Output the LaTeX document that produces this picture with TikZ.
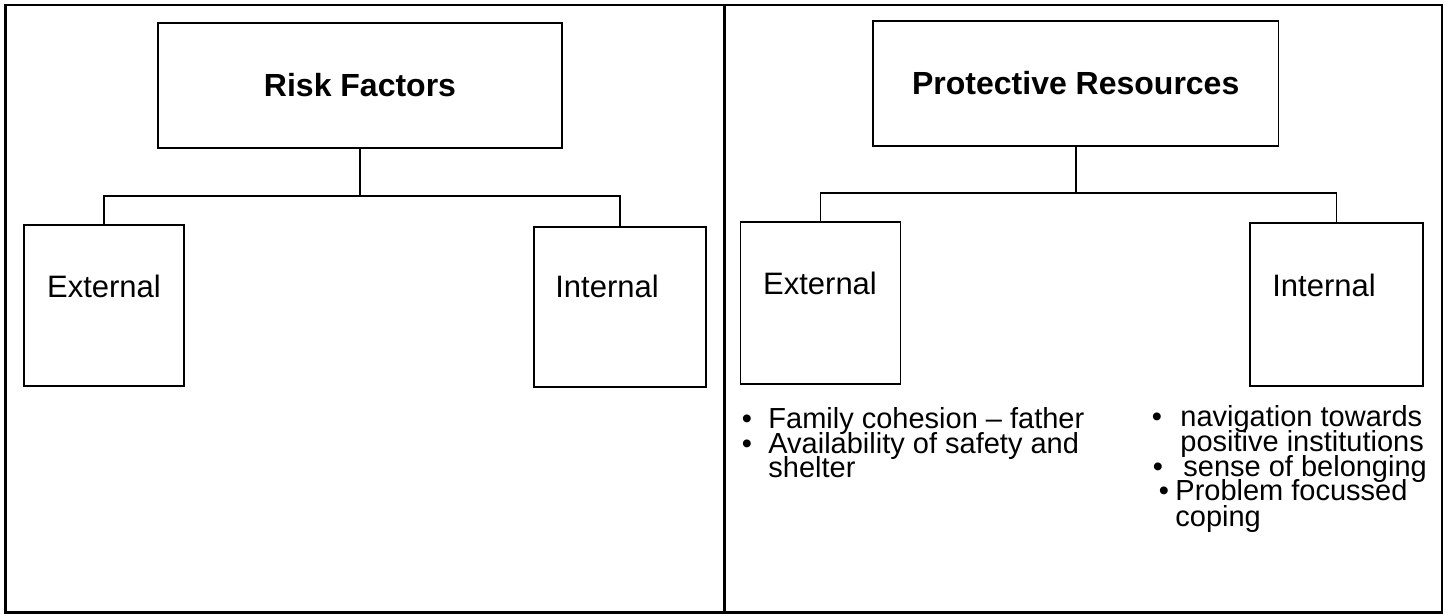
\documentclass[tikz,border=0pt]{standalone}
\usepackage{fontspec}
\setmainfont{Liberation Sans}
\begin{document}
\begin{tikzpicture}[x=0.5pt,y=-0.5pt,
  frame/.style={line width=1.3pt},
  box/.style={draw,line width=0.8pt,inner sep=0pt,outer sep=0pt,align=center},
  title/.style={font=\fontsize{16}{19}\selectfont\bfseries},
  branch/.style={inner sep=0pt,anchor=base,font=\fontsize{15.5}{18}\selectfont},
  item/.style={inner sep=0pt,anchor=base west,text depth=0pt,font=\fontsize{14.5}{12.5}\selectfont},
  dot/.style={inner sep=0pt,anchor=base,text depth=0pt,font=\fontsize{14.5}{12.5}\selectfont},
  link/.style={line width=0.8pt}]
\useasboundingbox (0,0) rectangle (1446,614);

% outer frame split into two panels
\draw[frame] (5.5,5) rectangle (1442,612.5);
\draw[line width=1.1pt] (724.5,5) -- (724.5,612.5);

% ---- left panel: risk factors ----
\node[box,title,minimum width=202pt,minimum height=62.5pt] (rf) at (360,85.5) {Risk Factors};
\node[box,minimum width=80pt,minimum height=80.5pt] (lext) at (104,305.5) {};
\node[box,minimum width=86pt,minimum height=80pt] (lint) at (620,307) {};
\node[branch] (lextt) at (104,298) {External};
\node[branch] (lintt) at (607,298) {Internal};

\draw[link] (rf.south) -- ++(0,48) coordinate (rfj);
\draw[link] (lext.north) |- (rfj) -| (lint.north);

% ---- right panel: protective resources ----
\node[box,title,minimum width=202.75pt,minimum height=62.5pt] (pr) at (1075.75,83.5) {Protective Resources};
\node[box,minimum width=80pt,minimum height=81pt] (rext) at (820.5,303) {};
\node[box,minimum width=86.5pt,minimum height=81.5pt] (rint) at (1336.5,304.5) {};
\node[branch] (rextt) at (820,295) {External};
\node[branch] (rintt) at (1324,297) {Internal};

\draw[link] (pr.south) -- ++(0,47) coordinate (prj);
\draw[link] (rext.north) |- (prj) -| (rint.north);

% external protective resources
\node[dot] (eb1) at (747,429) {•};
\node[item] (e1) at (768,429) {Family cohesion – father};
\node[dot] (eb2) at (747,453.5) {•};
\node[item] (e2) at (768,453.5) {Availability of safety and};
\node[item] (e3) at (768,478) {shelter};

% internal protective resources
\node[dot] (ib1) at (1157,427) {•};
\node[item] (i1) at (1180,427) {navigation towards};
\node[item] (i2) at (1180,452) {positive institutions};
\node[dot] (ib2) at (1158,476.5) {•};
\node[item] (i3) at (1183,476.5) {sense of belonging};
\node[dot] (ib3) at (1164,501) {•};
\node[item] (i4) at (1175,501) {Problem focussed};
\node[item] (i5) at (1175,526) {coping};
\end{tikzpicture}
\end{document}
